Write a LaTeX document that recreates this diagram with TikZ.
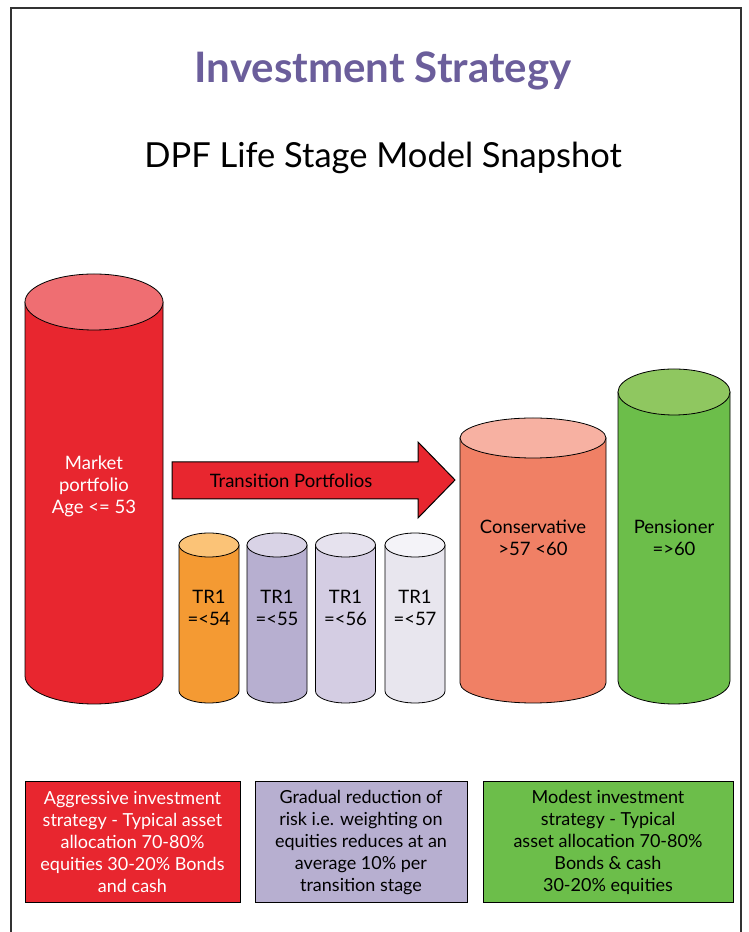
\documentclass[tikz,border=0pt]{standalone}
\usepackage{fontspec}
\setmainfont{Lato}
\usepackage{xcolor}
\usepackage{tikz}

\definecolor{titlepurple}{HTML}{6B5E9B}
\definecolor{mktbody}{HTML}{E8262F}
\definecolor{mkttop}{HTML}{EF6E72}
\definecolor{orgbody}{HTML}{F49A33}
\definecolor{orgtop}{HTML}{FBC377}
\definecolor{lilbody}{HTML}{B7AFD0}
\definecolor{liltop}{HTML}{D9D3E6}
\definecolor{palebody}{HTML}{D4CDE3}
\definecolor{paletop}{HTML}{E6E2EE}
\definecolor{greybody}{HTML}{E8E6EE}
\definecolor{greytop}{HTML}{F4F3F8}
\definecolor{consbody}{HTML}{F08065}
\definecolor{constop}{HTML}{F7B1A2}
\definecolor{penbody}{HTML}{6CBE4A}
\definecolor{pentop}{HTML}{8FC760}

% cylinder: centre x, top y, bottom y, x radius, y radius, body colour, top colour
\newcommand{\drawcyl}[7]{
	\draw[fill=#6, line width=0.8pt] (#1-#4,#2) -- (#1-#4,#3) arc[start angle=180, end angle=360, x radius=#4, y radius=#5] -- (#1+#4,#2) -- cycle;
	\draw[fill=#7, line width=0.8pt] (#1,#2) ellipse[x radius=#4, y radius=#5];
}

\tikzset{
	cyltext/.style={font=\fontsize{18.5}{22}\selectfont, align=center},
	infobox/.style={draw, line width=1pt, minimum height=121pt, align=center, inner sep=0pt, font=\fontsize{18}{22}\selectfont}
}

\begin{document}
\begin{tikzpicture}[x=1pt,y=1pt]
	\useasboundingbox (0,0) rectangle (749,932);
	
	% Frame - open at the bottom
	\draw[line width=1.5pt, black!80] (11,0) -- (11,924) -- (741,924) -- (741,0);
	
	% Headings
	\node[font=\fontsize{42}{46}\selectfont\bfseries, text=titlepurple] (title) at (383,861) {Investment Strategy};
	\node[font=\fontsize{34.5}{40}\selectfont] (subtitle) at (383,774) {DPF Life Stage Model Snapshot};
	
	% Market portfolio
	\drawcyl{94}{630}{256}{69}{28}{mktbody}{mkttop}
	\node[cyltext, text=white] (market) at (94,446) {Market\\portfolio\\Age <= 53};
	
	% Transition arrow
	\draw[fill=mktbody, line width=1pt] (172,470) -- (418,470) -- (418,490) -- (455,452) -- (418,414) -- (418,433) -- (172,433) -- cycle;
	\node[cyltext] (transition) at (291,451) {Transition Portfolios};
	
	% Transition portfolios
	\foreach \cx/\body/\top/\age in {209/orgbody/orgtop/54, 277/lilbody/liltop/55, 345.5/palebody/paletop/56, 415/greybody/greytop/57} {
		\drawcyl{\cx}{387}{241}{30}{12}{\body}{\top}
		\node[cyltext] (tr\age) at (\cx,324) {TR1\\=<\age};
	}
	
	% Conservative and pensioner
	\drawcyl{533}{494}{249}{73}{20}{consbody}{constop}
	\node[cyltext] (conservative) at (533,394.5) {Conservative\\>57 <60};
	\drawcyl{674}{540}{251}{56}{23}{penbody}{pentop}
	\node[cyltext] (pensioner) at (674,394.5) {Pensioner\\=>60};
	
	% Description boxes
	\node[infobox, fill=mktbody, text=white, minimum width=215pt] (aggressive) at (132.5,89.5) {Aggressive investment\\strategy - Typical asset\\allocation 70-80\%\\equities 30-20\% Bonds\\and cash};
	\node[infobox, fill=lilbody, minimum width=212pt] (gradual) at (361,89.5) {Gradual reduction of\\risk i.e. weighting on\\equities reduces at an\\average 10\% per\\transition stage};
	\node[infobox, fill=penbody, minimum width=250pt] (modest) at (608,89.5) {Modest investment\\strategy - Typical\\asset allocation 70-80\%\\Bonds \& cash\\30-20\% equities};
\end{tikzpicture}
\end{document}
